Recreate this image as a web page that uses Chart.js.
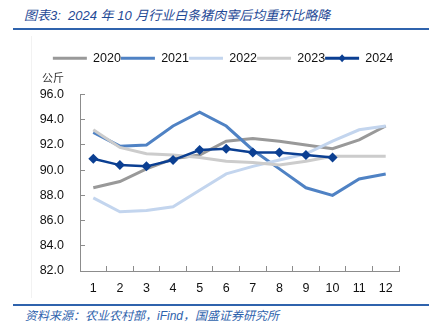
<!DOCTYPE html>
<html>
<head>
<meta charset="utf-8">
<script src="https://cdn.jsdelivr.net/npm/chart.js@4/dist/chart.umd.min.js"></script>
<style>
  html, body { margin: 0; padding: 0; background: #fff; }
  body { width: 429px; height: 331px; position: relative; overflow: hidden; font-family: "Liberation Sans", "Noto Sans CJK SC", sans-serif; }
  #title { position: absolute; left: 24px; top: 5px; font-size: 13px; font-style: italic; color: #1f4a96; font-family: "Liberation Sans", "Noto Sans CJK SC", sans-serif; white-space: nowrap; }
  .rule { position: absolute; left: 13px; right: 0; height: 2px; background: #2f63ad; }
  #source { position: absolute; left: 25px; top: 306px; font-size: 12px; font-style: italic; color: #2f63ad; font-family: "Liberation Sans", "Noto Sans CJK SC", sans-serif; white-space: nowrap; }
  #frame { position: absolute; left: 31px; top: 36px; width: 1px; height: 262px; background: #f2f2f2; }
  #wrap { position: absolute; left: 0; top: 36px; width: 429px; height: 266px; }
</style>
</head>
<body>
<div id="title">图表3:&nbsp; 2024 年 10 月行业白条猪肉宰后均重环比略降</div>
<div class="rule" style="top:28px"></div>
<div id="frame"></div>
<div id="wrap"><canvas id="chart"></canvas></div>
<div class="rule" style="top:304px"></div>
<div id="source">资料来源：农业农村部，iFind，国盛证券研究所</div>
<script>
// months on the x axis
const months = ['1', '2', '3', '4', '5', '6', '7', '8', '9', '10', '11', '12'];
const seriesNames = ['2020', '2021', '2022', '2023', '2024'];

// average carcass weight after slaughter, kg
const w2020 = [88.6, 89.1, 90.1, 90.9, 91.2, 92.3, 92.5, 92.3, 92.0, 91.7, 92.4, 93.5];
const w2021 = [93.0, 91.9, 92.0, 93.5, 94.6, 93.5, 91.6, 90.1, 88.6, 88.0, 89.3, 89.7];
const w2022 = [87.8, 86.7, 86.8, 87.1, 88.4, 89.7, 90.3, 90.8, 91.3, 92.3, 93.2, 93.5];
const w2023 = [93.2, 91.8, 91.3, 91.2, 91.0, 90.7, 90.6, 90.4, 90.7, 91.1, 91.1, 91.1];
const w2024 = [90.9, 90.4, 90.3, 90.8, 91.6, 91.7, 91.4, 91.4, 91.2, 91.0];

const yTicks = [82, 84, 86, 88, 90, 92, 94, 96];
const unitLabel = '公斤';

const colors = ['#999999', '#4f82c4', '#c3d5ee', '#cccccc', '#0b3f92'];
const seriesData = [w2020, w2021, w2022, w2023, w2024];

const datasets = seriesData.map((d, i) => ({
    label: seriesNames[i],
    data: d,
    borderColor: colors[i],
    backgroundColor: colors[i],
    borderWidth: i === 4 ? 2.5 : 3,
    pointRadius: i === 4 ? 5 : 0,
    pointStyle: 'rectRot',
    pointBorderWidth: 0,
    tension: 0,
    order: i === 4 ? 0 : 5 - i
}));

const axisGray = '#8c8c8c';

// extra room below the legend (unit label goes there), legend nudged right
const legendGap = {
    id: 'legendGap',
    afterInit(chart) {
        const fit = chart.legend.fit;
        chart.legend.fit = function () {
            fit.call(this);
            this.height += 20;
        };
    },
    afterLayout(chart) {
        chart.legend.left += 23.5;
        chart.legend.right += 23.5;
    }
};

// unit label above the y axis + diamond in the 2024 legend entry
const extras = {
    id: 'extras',
    afterDraw(chart) {
        const ctx = chart.ctx;
        const y = chart.scales.y;
        ctx.save();
        ctx.fillStyle = '#333';
        ctx.font = '11px "Noto Sans CJK SC", sans-serif';
        ctx.textAlign = 'right';
        ctx.textBaseline = 'middle';
        ctx.fillText(unitLabel, y.right - 16, y.top - 17);

        const boxes = chart.legend.legendHitBoxes;
        const b = boxes[4];
        if (b) {
            const cx = b.left + 17;
            const cy = b.top + b.height / 2;
            ctx.fillStyle = colors[4];
            ctx.beginPath();
            ctx.moveTo(cx, cy - 4);
            ctx.lineTo(cx + 3.5, cy);
            ctx.lineTo(cx, cy + 4);
            ctx.lineTo(cx - 3.5, cy);
            ctx.closePath();
            ctx.fill();
        }
        ctx.restore();
    }
};

new Chart(document.getElementById('chart'), {
    type: 'line',
    data: { labels: months, datasets },
    options: {
        responsive: true,
        maintainAspectRatio: false,
        animation: false,
        layout: { padding: { left: 0, right: 30, top: 16, bottom: 0 } },
        plugins: {
            tooltip: { enabled: false },
            legend: {
                position: 'top',
                align: 'center',
                labels: {
                    boxWidth: 34,
                    boxHeight: 3,
                    padding: 0,
                    color: '#111',
                    font: { family: '"Liberation Sans", sans-serif', size: 12.5 },
                    generateLabels(chart) {
                        return chart.data.datasets.map((ds, i) => ({
                            text: ds.label,
                            fillStyle: ds.borderColor,
                            strokeStyle: ds.borderColor,
                            lineWidth: 0,
                            fontColor: '#111',
                            datasetIndex: i
                        }));
                    }
                }
            }
        },
        scales: {
            x: {
                offset: true,
                grid: { offset: true, drawOnChartArea: false, drawTicks: true, tickLength: -5, color: axisGray },
                border: { color: axisGray, width: 1 },
                ticks: { color: '#111', padding: 15, font: { family: '"Liberation Sans", sans-serif', size: 12.5 } },
                afterFit(scale) { scale.height = 31; }
            },
            y: {
                min: 82,
                max: 96,
                afterBuildTicks(scale) { scale.ticks = yTicks.map(v => ({ value: v })); },
                grid: { drawOnChartArea: false, drawTicks: true, tickLength: -5, color: axisGray },
                border: { color: axisGray, width: 1 },
                ticks: {
                    color: '#111',
                    padding: 21,
                    font: { family: '"Liberation Sans", sans-serif', size: 12.5 },
                    callback: v => Number(v).toFixed(1)
                },
                afterFit(scale) { scale.width = 80; }
            }
        }
    },
    plugins: [legendGap, extras]
});
</script>
</body>
</html>
